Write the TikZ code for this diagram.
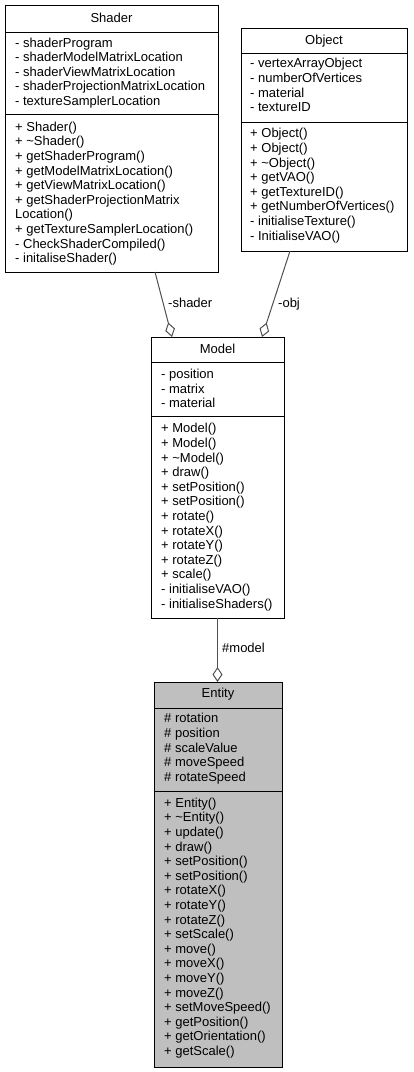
\documentclass[tikz,border=0pt]{standalone}
\usepackage{fontspec}
\setmainfont{Liberation Sans}
\usetikzlibrary{arrows.meta}
\definecolor{conn}{HTML}{505050}
\definecolor{entgray}{HTML}{BFBFBF}
\begin{document}
\begin{tikzpicture}[x=1pt,y=-1pt,
  classbox/.style={draw=black, line width=1pt, fill=white, inner sep=0pt, outer sep=0pt, anchor=north west},
  txt/.style={anchor=base west, inner sep=0pt, font=\fontsize{13}{14.6}\selectfont},
  ttl/.style={anchor=base, inner sep=0pt, font=\fontsize{13}{14.6}\selectfont},
  sepline/.style={draw=black, line width=1pt},
  agg/.style={draw=conn, line width=1pt, -{Diamond[length=15pt,width=10pt,fill=white,line width=1pt]}},
  lbl/.style={anchor=base west, inner sep=0pt, font=\fontsize{13}{14.6}\selectfont}
]
\useasboundingbox[fill=white] (0,0) rectangle (413,1072);

% ---------- Shader ----------
\node[classbox, minimum width=213pt, minimum height=267pt] (shader) at (5,5) {};
\draw[sepline] (5,32) -- (218,32);
\draw[sepline] (5,114) -- (218,114);
\node[ttl] (shT) at (111.5,22.7) {Shader};
\foreach \t [count=\i from 0] in {- shaderProgram, - shaderModelMatrixLocation, - shaderViewMatrixLocation, - shaderProjectionMatrixLocation, - textureSamplerLocation}
  \node[txt] (shA\i) at (15,{47.3+\i*14.5}) {\t};
\foreach \t [count=\i from 0] in {+ Shader(), + \textasciitilde Shader(), + getShaderProgram(), + getModelMatrixLocation(), + getViewMatrixLocation(), + getShaderProjectionMatrix, Location(), + getTextureSamplerLocation(), - CheckShaderCompiled(), - initaliseShader()}
  \node[txt] (shM\i) at (15,{131.2+\i*14.6}) {\t};

% ---------- Object ----------
\node[classbox, minimum width=166pt, minimum height=223pt] (object) at (241,28) {};
\draw[sepline] (241,53) -- (407,53);
\draw[sepline] (241,122) -- (407,122);
\node[ttl] (obT) at (324,44.5) {Object};
\foreach \t [count=\i from 0] in {- vertexArrayObject, - numberOfVertices, - material, - textureID}
  \node[txt] (obA\i) at (250,{67.8+\i*14.6}) {\t};
\foreach \t [count=\i from 0] in {+ Object(), + Object(), + \textasciitilde Object(), + getVAO(), + getTextureID(), + getNumberOfVertices(), - initialiseTexture(), - InitialiseVAO()}
  \node[txt] (obM\i) at (250,{137.8+\i*14.6}) {\t};

% ---------- Model ----------
\node[classbox, minimum width=133pt, minimum height=281pt] (model) at (151,337) {};
\draw[sepline] (151,362) -- (284,362);
\draw[sepline] (151,416) -- (284,416);
\node[ttl] (mdT) at (217.5,353.5) {Model};
\foreach \t [count=\i from 0] in {- position, - matrix, - material}
  \node[txt] (mdA\i) at (161,{378.5+\i*14.6}) {\t};
\foreach \t [count=\i from 0] in {+ Model(), + Model(), + \textasciitilde Model(), + draw(), + setPosition(), + setPosition(), + rotate(), + rotateX(), + rotateY(), + rotateZ(), + scale(), - initialiseVAO(), - initialiseShaders()}
  \node[txt] (mdM\i) at (161,{432.8+\i*14.6}) {\t};

% ---------- Entity ----------
\node[classbox, fill=entgray, minimum width=128pt, minimum height=385pt] (entity) at (154,682) {};
\draw[sepline] (154,708) -- (282,708);
\draw[sepline] (154,791) -- (282,791);
\node[ttl] (enT) at (218,697.8) {Entity};
\foreach \t [count=\i from 0] in {\# rotation, \# position, \# scaleValue, \# moveSpeed, \# rotateSpeed}
  \node[txt] (enA\i) at (164,{722.8+\i*14.6}) {\t};
\foreach \t [count=\i from 0] in {+ Entity(), + \textasciitilde Entity(), + update(), + draw(), + setPosition(), + setPosition(), + rotateX(), + rotateY(), + rotateZ(), + setScale(), + move(), + moveX(), + moveY(), + moveZ(), + setMoveSpeed(), + getPosition(), + getOrientation(), + getScale()}
  \node[txt] (enM\i) at (164,{807.2+\i*14.6}) {\t};

% ---------- Connectors ----------
\coordinate (shOut) at ([xshift=150pt]shader.south west);
\coordinate (mdInS) at ([xshift=21pt]model.north west);
\coordinate (obOut) at ([xshift=49pt]object.south west);
\coordinate (mdInO) at ([xshift=111pt]model.north west);
\coordinate (mdOut) at ([xshift=66.5pt]model.south west);
\coordinate (enIn) at ([xshift=63.5pt]entity.north west);
\draw[agg] (shOut) -- (mdInS);
\draw[agg] (obOut) -- (mdInO);
\draw[agg] (mdOut) -- (enIn);
\node[lbl] (lShader) at (168,307.5) {-shader};
\node[lbl] (lObj) at (278,307.5) {-obj};
\node[lbl] (lModel) at (222,652.5) {\#model};
\end{tikzpicture}
\end{document}
